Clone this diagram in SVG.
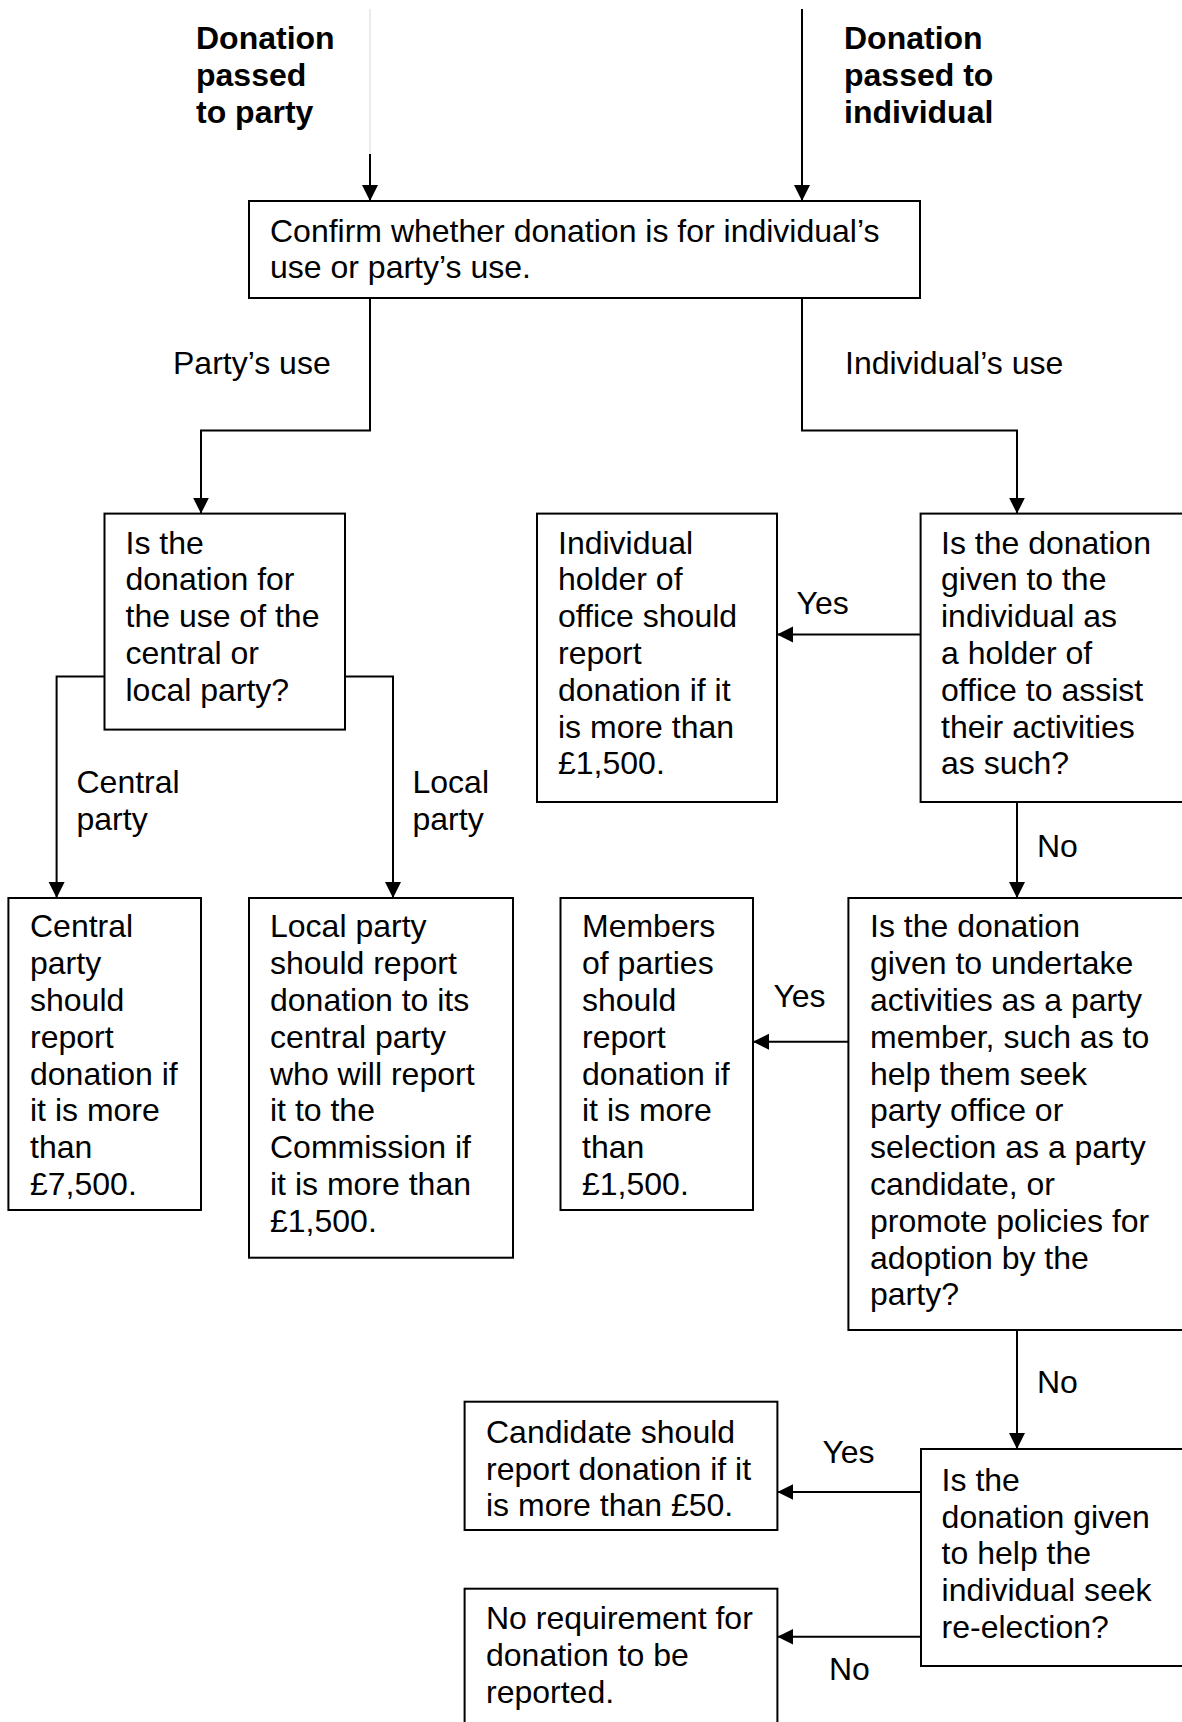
<svg xmlns="http://www.w3.org/2000/svg" width="1182" height="1722" viewBox="0 0 1182 1722">
<style>
  .box { fill: #ffffff; stroke: #000000; stroke-width: 2; }
  .t { font-family: "Liberation Sans", Arial, sans-serif; font-size: 32px; fill: #000000; }
  .b { font-family: "Liberation Sans", Arial, sans-serif; font-size: 32px; font-weight: bold; fill: #000000; }
  .c { fill: none; stroke: #000000; stroke-width: 2; }
  .faint { fill: none; stroke: #d8d8d8; stroke-width: 1; }
</style>
<defs>
  <marker id="arr" markerUnits="userSpaceOnUse" markerWidth="17" markerHeight="17" refX="16" refY="8" orient="auto">
    <path d="M0,0 L16,8 L0,16 Z" fill="#000000"/>
  </marker>
</defs>
<rect x="0" y="0" width="1182" height="1722" fill="#ffffff"/>

<g id="connectors">
  <line class="faint" x1="370" y1="9" x2="370" y2="154"/>
  <path class="c" d="M370,154 L370,201" marker-end="url(#arr)"/>
  <path class="c" d="M802,9 L802,201" marker-end="url(#arr)"/>
  <path class="c" d="M370,298 L370,430.5 L201,430.5 L201,513.6" marker-end="url(#arr)"/>
  <path class="c" d="M802,298 L802,430.5 L1017,430.5 L1017,513.6" marker-end="url(#arr)"/>
  <path class="c" d="M104.5,676.5 L56.6,676.5 L56.6,898" marker-end="url(#arr)"/>
  <path class="c" d="M345,676.5 L393,676.5 L393,898" marker-end="url(#arr)"/>
  <path class="c" d="M920.6,634.6 L777,634.6" marker-end="url(#arr)"/>
  <path class="c" d="M1017,802 L1017,898" marker-end="url(#arr)"/>
  <path class="c" d="M848.4,1041.7 L753,1041.7" marker-end="url(#arr)"/>
  <path class="c" d="M1017,1330 L1017,1449" marker-end="url(#arr)"/>
  <path class="c" d="M921,1492 L777.4,1492" marker-end="url(#arr)"/>
  <path class="c" d="M921,1636.7 L777.4,1636.7" marker-end="url(#arr)"/>
</g>

<g id="labels">
  <text class="b" x="196"><tspan x="196" y="49.3">Donation</tspan><tspan x="196" y="86">passed</tspan><tspan x="196" y="122.7">to party</tspan></text>
  <text class="b" x="844"><tspan x="844" y="49.3">Donation</tspan><tspan x="844" y="86">passed to</tspan><tspan x="844" y="122.7">individual</tspan></text>
  <text class="t" x="173" y="374">Party’s use</text>
  <text class="t" x="845" y="374">Individual’s use</text>
  <text class="t"><tspan x="76.5" y="793">Central</tspan><tspan x="76.5" y="830">party</tspan></text>
  <text class="t"><tspan x="412.5" y="793">Local</tspan><tspan x="412.5" y="830">party</tspan></text>
  <text class="t" x="796.5" y="613.6">Yes</text>
  <text class="t" x="1037" y="857">No</text>
  <text class="t" x="773.4" y="1007">Yes</text>
  <text class="t" x="1037" y="1393">No</text>
  <text class="t" x="822.4" y="1463">Yes</text>
  <text class="t" x="829" y="1680">No</text>
</g>

<g id="confirm">
  <rect class="box" x="249" y="201" width="671" height="97"/>
  <text class="t"><tspan x="270" y="241.7">Confirm whether donation is for individual’s</tspan><tspan x="270" y="277.7">use or party’s use.</tspan></text>
</g>

<g id="central-or-local">
  <rect class="box" x="104.5" y="513.6" width="240.5" height="216"/>
  <text class="t"><tspan x="125.5" y="553.6">Is the</tspan><tspan x="125.5" y="590.4">donation for</tspan><tspan x="125.5" y="627.2">the use of the</tspan><tspan x="125.5" y="664">central or</tspan><tspan x="125.5" y="700.8">local party?</tspan></text>
</g>

<g id="holder-report">
  <rect class="box" x="537" y="513.6" width="240" height="288.4"/>
  <text class="t"><tspan x="558" y="553.6">Individual</tspan><tspan x="558" y="590.4">holder of</tspan><tspan x="558" y="627.2">office should</tspan><tspan x="558" y="664">report</tspan><tspan x="558" y="700.8">donation if it</tspan><tspan x="558" y="737.6">is more than</tspan><tspan x="558" y="774.4">£1,500.</tspan></text>
</g>

<g id="holder-question">
  <rect class="box" x="920.6" y="513.6" width="275" height="288.4"/>
  <text class="t"><tspan x="941" y="553.6">Is the donation</tspan><tspan x="941" y="590.4">given to the</tspan><tspan x="941" y="627.2">individual as</tspan><tspan x="941" y="664">a holder of</tspan><tspan x="941" y="700.8">office to assist</tspan><tspan x="941" y="737.6">their activities</tspan><tspan x="941" y="774.4">as such?</tspan></text>
</g>

<g id="central-report">
  <rect class="box" x="8.4" y="898" width="192.6" height="312"/>
  <text class="t"><tspan x="30" y="937.3">Central</tspan><tspan x="30" y="974.1">party</tspan><tspan x="30" y="1010.9">should</tspan><tspan x="30" y="1047.7">report</tspan><tspan x="30" y="1084.5">donation if</tspan><tspan x="30" y="1121.3">it is more</tspan><tspan x="30" y="1158.1">than</tspan><tspan x="30" y="1194.9">£7,500.</tspan></text>
</g>

<g id="local-report">
  <rect class="box" x="249" y="898" width="264" height="359.7"/>
  <text class="t"><tspan x="270" y="937.3">Local party</tspan><tspan x="270" y="974.1">should report</tspan><tspan x="270" y="1010.9">donation to its</tspan><tspan x="270" y="1047.7">central party</tspan><tspan x="270" y="1084.5">who will report</tspan><tspan x="270" y="1121.3">it to the</tspan><tspan x="270" y="1158.1">Commission if</tspan><tspan x="270" y="1194.9">it is more than</tspan><tspan x="270" y="1231.7">£1,500.</tspan></text>
</g>

<g id="members-report">
  <rect class="box" x="560.5" y="898" width="192.5" height="312"/>
  <text class="t"><tspan x="582" y="937.3">Members</tspan><tspan x="582" y="974.1">of parties</tspan><tspan x="582" y="1010.9">should</tspan><tspan x="582" y="1047.7">report</tspan><tspan x="582" y="1084.5">donation if</tspan><tspan x="582" y="1121.3">it is more</tspan><tspan x="582" y="1158.1">than</tspan><tspan x="582" y="1194.9">£1,500.</tspan></text>
</g>

<g id="member-question">
  <rect class="box" x="848.4" y="898" width="347" height="432"/>
  <text class="t"><tspan x="870" y="937.3">Is the donation</tspan><tspan x="870" y="974.1">given to undertake</tspan><tspan x="870" y="1010.9">activities as a party</tspan><tspan x="870" y="1047.7">member, such as to</tspan><tspan x="870" y="1084.5">help them seek</tspan><tspan x="870" y="1121.3">party office or</tspan><tspan x="870" y="1158.1">selection as a party</tspan><tspan x="870" y="1194.9">candidate, or</tspan><tspan x="870" y="1231.7">promote policies for</tspan><tspan x="870" y="1268.5">adoption by the</tspan><tspan x="870" y="1305.3">party?</tspan></text>
</g>

<g id="candidate-report">
  <rect class="box" x="464.6" y="1401.7" width="312.8" height="128.3"/>
  <text class="t"><tspan x="486" y="1442.7">Candidate should</tspan><tspan x="486" y="1479.5">report donation if it</tspan><tspan x="486" y="1516.3">is more than £50.</tspan></text>
</g>

<g id="reelection-question">
  <rect class="box" x="921" y="1449" width="275" height="217"/>
  <text class="t"><tspan x="941.6" y="1490.7">Is the</tspan><tspan x="941.6" y="1527.5">donation given</tspan><tspan x="941.6" y="1564.3">to help the</tspan><tspan x="941.6" y="1601.1">individual seek</tspan><tspan x="941.6" y="1637.9">re-election?</tspan></text>
</g>

<g id="no-requirement">
  <rect class="box" x="464.6" y="1588.7" width="312.8" height="150"/>
  <text class="t"><tspan x="486" y="1629">No requirement for</tspan><tspan x="486" y="1665.8">donation to be</tspan><tspan x="486" y="1702.6">reported.</tspan></text>
</g>
</svg>
